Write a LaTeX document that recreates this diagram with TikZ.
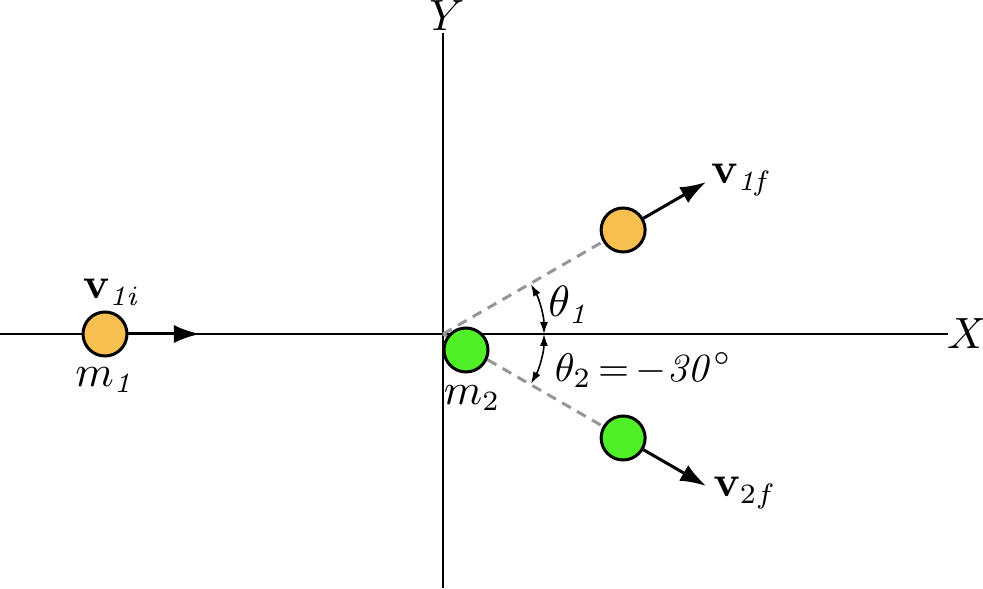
\documentclass[tikz,border=0pt]{standalone}
\usetikzlibrary{arrows.meta,calc}
\definecolor{ballorange}{RGB}{247,190,80}
\definecolor{ballgreen}{RGB}{80,240,40}
\definecolor{dashgray}{RGB}{150,150,150}
\begin{document}
\begin{tikzpicture}[x=0.25pt,y=0.25pt,
    font=\fontsize{10.5}{12}\selectfont,
    ball/.style={circle,draw,line width=0.75pt,minimum size=11pt,inner sep=0pt},
    velocity/.style={line width=0.75pt,-{Latex[length=6.5pt,width=4.5pt]}},
    track/.style={dashgray,line width=0.75pt,dash pattern=on 2.5pt off 1.8pt},
    anglearc/.style={line width=0.4pt,{Latex[length=3pt,width=2pt]}-{Latex[length=3pt,width=2pt]}}]
    \useasboundingbox (-443,-254) rectangle (540,334);

    % axes
    \coordinate (O) at (0,0);
    \coordinate (xl) at (-443,0);
    \coordinate (xr) at (505,0);
    \coordinate (yt) at (0,301);
    \coordinate (yb) at (0,-254);
    \draw[line width=0.4pt] (xl) -- (xr);
    \draw[line width=0.4pt] (yt) -- (yb);
    \node (X) at (524,0) {$X$};
    \node (Y) at (4,318) {$Y$};

    % paths after the collision
    \coordinate (p1) at (30:208);
    \coordinate (p2) at (-30:208);
    \draw[track] (O) -- (p1);
    \draw[track] (O) -- (p2);

    % angles
    \draw[anglearc] (0:101) arc[start angle=0,end angle=29.5,radius=25.25pt];
    \draw[anglearc] (0:101) arc[start angle=0,end angle=-29.5,radius=25.25pt];
    \node (th1) at (127,29) {$\theta_{\mathit{1}}$};
    \node[anchor=west,inner sep=0pt,font=\fontsize{10}{12}\selectfont] (th2) at (111,-36) {$\theta_2\,{=}\,{-}\mathit{30}^\circ$};

    % balls
    \node[ball,fill=ballorange] (m1) at (-338,0) {};
    \node[ball,fill=ballgreen] (m2) at (23,-16) {};
    \node[ball,fill=ballorange] (b1f) at (p1) {};
    \node[ball,fill=ballgreen] (b2f) at (p2) {};

    % velocities
    \coordinate (t1i) at (-243,0);
    \coordinate (t1f) at ($(p1)+(30:96)$);
    \coordinate (t2f) at ($(p2)+(-30:96)$);
    \draw[velocity] (m1) -- (t1i);
    \draw[velocity] (b1f) -- (t1f);
    \draw[velocity] (b2f) -- (t2f);

    % labels
    \node (lv1i) at (-331,42) {$\mathbf{v}_{\mathit{1i}}$};
    \node (lm1) at (-337,-46) {$m_{\mathit{1}}$};
    \node (lm2) at (29,-64) {$m_2$};
    \node (lv1f) at (299,154) {$\mathbf{v}_{\mathit{1f}}$};
    \node (lv2f) at (302,-159) {$\mathbf{v}_{2f}$};
\end{tikzpicture}
\end{document}
